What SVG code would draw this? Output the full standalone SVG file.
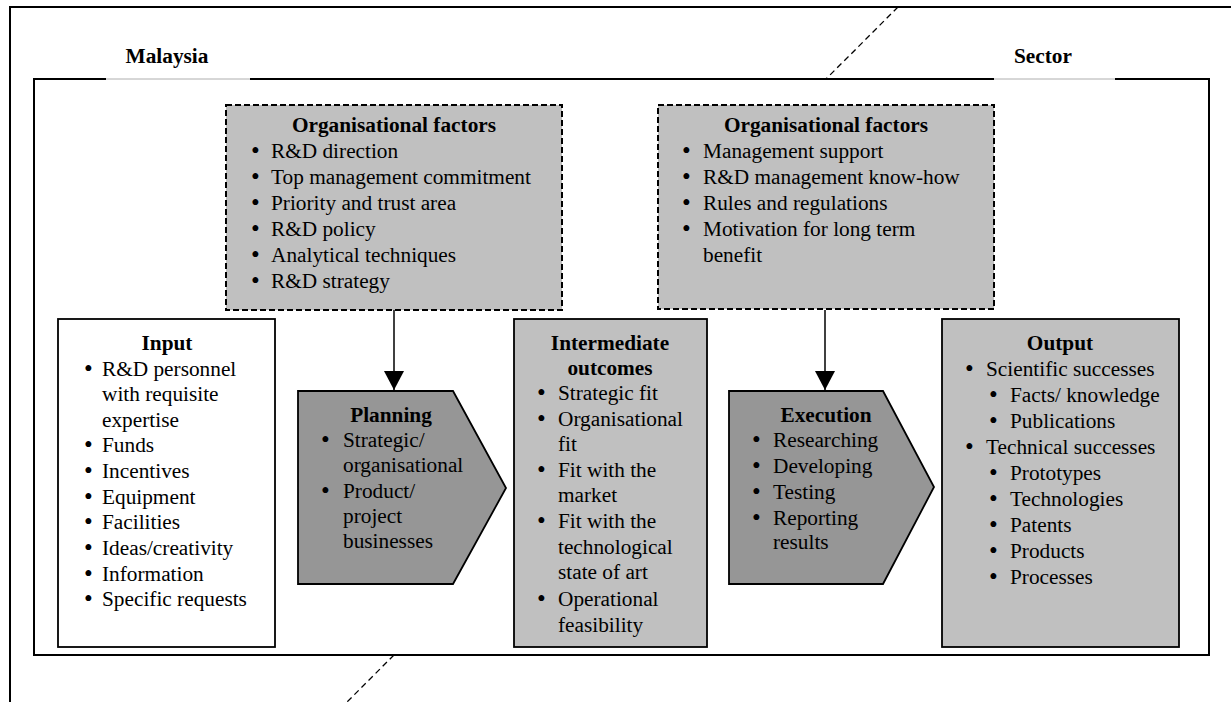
<svg xmlns="http://www.w3.org/2000/svg" width="1231" height="702" viewBox="0 0 1231 702">
  <style>
    text { font-family: "Liberation Serif", "Times New Roman", serif; font-size: 21.3px; fill: #000; }
    .title { font-weight: bold; text-anchor: middle; }
    .b { font-size: 25px; }
    .frame { fill: none; stroke: #000; stroke-width: 2; }
    .gap { stroke: #999; stroke-width: 0.8; }
    .diag { stroke: #000; stroke-width: 1.3; stroke-dasharray: 6 4; fill: none; }
    .factor { fill: #c0c0c0; stroke: #000; stroke-width: 2; stroke-dasharray: 6 3; }
    .box { stroke: #000; stroke-width: 1.8; }
    .light { fill: #c0c0c0; }
    .white { fill: #fff; }
    .dark { fill: #969696; }
    .link { stroke: #000; stroke-width: 1.5; fill: none; }
  </style>
  <defs>
    <!-- solid triangular arrowhead, tip at the end of the line -->
    <marker id="arrowhead" markerWidth="19" markerHeight="20" refX="19" refY="10" orient="auto" markerUnits="userSpaceOnUse" viewBox="0 0 19 20">
      <path d="M0 0 L19 10 L0 20 Z" fill="#000"/>
    </marker>
  </defs>

  <rect width="1231" height="702" fill="#fff"/>

  <!-- outer boundary -->
  <g id="outer-frame">
    <path class="frame" d="M10 702 V7 H1231"/>
    <path class="diag" d="M898 7 L826 79"/>
    <path class="diag" d="M394 655 L345 704"/>
  </g>

  <!-- inner boundary with label gaps -->
  <g id="inner-frame">
    <path class="frame" d="M106 79 H34 V655 H1209 V79 H1115"/>
    <path class="frame" d="M250 79 H994"/>
    <path class="gap" d="M106 79 H250 M994 79 H1115"/>
    <text class="title" x="167" y="63">Malaysia</text>
    <text class="title" x="1043" y="63">Sector</text>
  </g>

  <!-- connectors -->
  <g id="connectors">
    <path class="link" d="M394 310 V390" marker-end="url(#arrowhead)"/>
    <path class="link" d="M825 310 V390" marker-end="url(#arrowhead)"/>
  </g>

  <g id="org-factors-left">
    <rect class="factor" x="226" y="105" width="336" height="205"/>
    <text class="title" x="394" y="132">Organisational factors</text>
    <text class="b" x="251" y="159">•</text><text x="271" y="158">R&amp;D direction</text>
    <text class="b" x="251" y="185">•</text><text x="271" y="184">Top management commitment</text>
    <text class="b" x="251" y="211">•</text><text x="271" y="210">Priority and trust area</text>
    <text class="b" x="251" y="237">•</text><text x="271" y="236">R&amp;D policy</text>
    <text class="b" x="251" y="263">•</text><text x="271" y="262">Analytical techniques</text>
    <text class="b" x="251" y="289">•</text><text x="271" y="288">R&amp;D strategy</text>
  </g>

  <g id="org-factors-right">
    <rect class="factor" x="658" y="105" width="336" height="204"/>
    <text class="title" x="826" y="132">Organisational factors</text>
    <text class="b" x="682" y="159">•</text><text x="703" y="158">Management support</text>
    <text class="b" x="682" y="185">•</text><text x="703" y="184">R&amp;D management know-how</text>
    <text class="b" x="682" y="211">•</text><text x="703" y="210">Rules and regulations</text>
    <text class="b" x="682" y="237">•</text><text x="703" y="236">Motivation for long term</text>
    <text x="703" y="262">benefit</text>
  </g>

  <g id="input">
    <rect class="box white" x="58" y="319" width="217" height="328"/>
    <text class="title" x="167" y="350">Input</text>
    <text class="b" x="84" y="377">•</text><text x="102" y="376">R&amp;D personnel</text>
    <text x="102" y="401">with requisite</text>
    <text x="102" y="427">expertise</text>
    <text class="b" x="84" y="453">•</text><text x="102" y="452">Funds</text>
    <text class="b" x="84" y="479">•</text><text x="102" y="478">Incentives</text>
    <text class="b" x="84" y="505">•</text><text x="102" y="504">Equipment</text>
    <text class="b" x="84" y="530">•</text><text x="102" y="529">Facilities</text>
    <text class="b" x="84" y="556">•</text><text x="102" y="555">Ideas/creativity</text>
    <text class="b" x="84" y="582">•</text><text x="102" y="581">Information</text>
    <text class="b" x="84" y="607">•</text><text x="102" y="606">Specific requests</text>
  </g>

  <g id="planning">
    <path class="box dark" d="M298 391 H453 L506 488 L453 584 H298 Z"/>
    <text class="title" x="391" y="422">Planning</text>
    <text class="b" x="321" y="448">•</text><text x="343" y="447">Strategic/</text>
    <text x="343" y="472">organisational</text>
    <text class="b" x="321" y="499">•</text><text x="343" y="498">Product/</text>
    <text x="343" y="523">project</text>
    <text x="343" y="548">businesses</text>
  </g>

  <g id="intermediate">
    <rect class="box light" x="514" y="319" width="193" height="328"/>
    <text class="title" x="610" y="350">Intermediate</text>
    <text class="title" x="610" y="375">outcomes</text>
    <text class="b" x="537" y="401">•</text><text x="558" y="400">Strategic fit</text>
    <text class="b" x="537" y="427">•</text><text x="558" y="426">Organisational</text>
    <text x="558" y="451">fit</text>
    <text class="b" x="537" y="478">•</text><text x="558" y="477">Fit with the</text>
    <text x="558" y="502">market</text>
    <text class="b" x="537" y="529">•</text><text x="558" y="528">Fit with the</text>
    <text x="558" y="554">technological</text>
    <text x="558" y="579">state of art</text>
    <text class="b" x="537" y="607">•</text><text x="558" y="606">Operational</text>
    <text x="558" y="632">feasibility</text>
  </g>

  <g id="execution">
    <path class="box dark" d="M729 391 H883 L934 487 L883 584 H729 Z"/>
    <text class="title" x="826" y="422">Execution</text>
    <text class="b" x="752" y="448">•</text><text x="773" y="447">Researching</text>
    <text class="b" x="752" y="474">•</text><text x="773" y="473">Developing</text>
    <text class="b" x="752" y="500">•</text><text x="773" y="499">Testing</text>
    <text class="b" x="752" y="526">•</text><text x="773" y="525">Reporting</text>
    <text x="773" y="549">results</text>
  </g>

  <g id="output">
    <rect class="box light" x="942" y="319" width="237" height="328"/>
    <text class="title" x="1060" y="350">Output</text>
    <text class="b" x="965" y="377">•</text><text x="986" y="376">Scientific successes</text>
    <text class="b" x="989" y="403">•</text><text x="1010" y="402">Facts/ knowledge</text>
    <text class="b" x="989" y="429">•</text><text x="1010" y="428">Publications</text>
    <text class="b" x="965" y="455">•</text><text x="986" y="454">Technical successes</text>
    <text class="b" x="989" y="481">•</text><text x="1010" y="480">Prototypes</text>
    <text class="b" x="989" y="507">•</text><text x="1010" y="506">Technologies</text>
    <text class="b" x="989" y="533">•</text><text x="1010" y="532">Patents</text>
    <text class="b" x="989" y="559">•</text><text x="1010" y="558">Products</text>
    <text class="b" x="989" y="585">•</text><text x="1010" y="584">Processes</text>
  </g>
</svg>
